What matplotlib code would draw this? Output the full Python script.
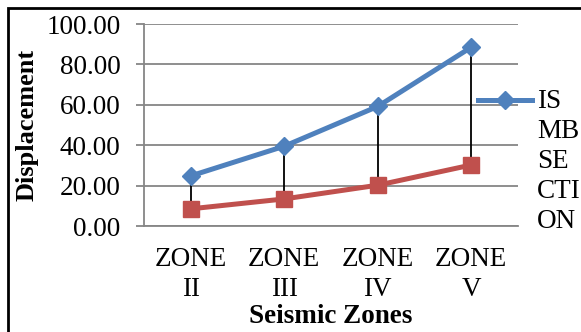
import matplotlib.pyplot as plt
from matplotlib.lines import Line2D
from matplotlib.patches import Rectangle
import numpy as np

plt.rcParams['font.family'] = ['Liberation Serif', 'DejaVu Serif']
plt.rcParams['font.size'] = 19.5

# displacement per seismic zone
zones = ["ZONE\nII", "ZONE\nIII", "ZONE\nIV", "ZONE\nV"]
is_mb_section = [24.8, 39.5, 59.2, 88.5]
lower_series = [8.5, 13.4, 20.2, 30.2]
legend_label = "IS\nMB\nSE\nCTI\nON"

blue = '#4F81BD'
red = '#C0504D'
grid_col = '#868686'

W, H = 581, 332
fig = plt.figure(figsize=(W / 100, H / 100), dpi=100)
ax = fig.add_axes([144 / W, 106 / H, 374 / W, 202 / H])

x = np.arange(len(zones))

# high-low lines between the two series
ax.vlines(x, lower_series, is_mb_section, color='black', lw=1.3, zorder=2)

ax.plot(x, is_mb_section, color=blue, lw=3.6, marker='D', markersize=9.5,
        zorder=3, solid_capstyle='round')
ax.plot(x, lower_series, color=red, lw=3.6, marker='s', markersize=11.5,
        zorder=3)

ax.set_xlim(-0.5, len(zones) - 0.5)
ax.set_ylim(0, 100)
ax.set_yticks(np.arange(0, 101, 20))
ax.set_yticklabels([f"{v:.2f}" for v in np.arange(0, 101, 20)])
ax.set_xticks(x)
ax.set_xticklabels(zones, linespacing=1.25)

ax.yaxis.grid(True, color=grid_col, lw=1.3)
ax.set_axisbelow(True)
for side in ['top', 'right']:
    ax.spines[side].set_visible(False)
ax.spines['left'].set_color(grid_col)
ax.spines['bottom'].set_color(grid_col)
ax.spines['left'].set_linewidth(1.3)
ax.spines['bottom'].set_linewidth(1.3)
ax.tick_params(axis='y', length=5.8, width=1.3, color=grid_col, pad=11)
ax.tick_params(axis='x', length=0, pad=15)

ax.set_ylabel("Displacement", fontweight='bold', fontsize=19, labelpad=6)
ax.set_xlabel("Seismic Zones", fontweight='bold', labelpad=2)

# legend drawn to the right of the plot
ly = 1 - 100 / H
fig.add_artist(Line2D([478 / W, 532 / W], [ly, ly], color=blue, lw=3.6,
                      transform=fig.transFigure))
fig.add_artist(Line2D([505 / W], [ly], color=blue, marker='D',
                      markersize=9.5, lw=0, transform=fig.transFigure))
fig.text(537 / W, 1 - 89 / H, legend_label, ha='left', va='top',
         linespacing=1.26, transform=fig.transFigure)

# chart frame
fig.add_artist(Rectangle((8 / W, -0.2), 1.2, 1 - 8 / H + 0.2, fill=False,
                         edgecolor='black', lw=2, transform=fig.transFigure))

fig.savefig("out.png", dpi=100)
